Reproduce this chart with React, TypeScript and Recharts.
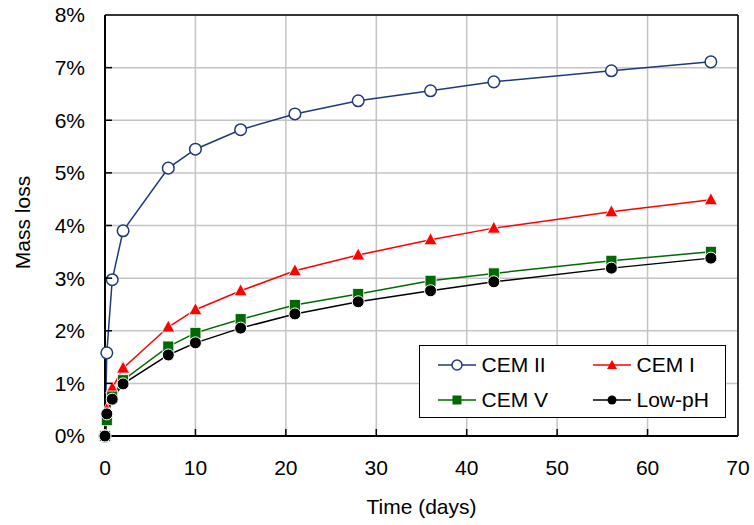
import {
  LineChart,
  Line,
  XAxis,
  YAxis,
  CartesianGrid,
  ReferenceLine,
  Legend,
} from "recharts";

// time in days, mass loss in %
const days = [0, 0.2, 0.8, 2, 7, 10, 15, 21, 28, 36, 43, 56, 67];
const cem2 = [0, 1.58, 2.97, 3.9, 5.09, 5.45, 5.82, 6.12, 6.37, 6.56, 6.73, 6.94, 7.11];
const cem1 = [0, 0.5, 0.91, 1.29, 2.07, 2.4, 2.76, 3.14, 3.44, 3.73, 3.95, 4.26, 4.49];
const cem5 = [0, 0.3, 0.75, 1.06, 1.7, 1.96, 2.22, 2.49, 2.7, 2.95, 3.09, 3.33, 3.5];
const lowPh = [0, 0.42, 0.7, 0.99, 1.54, 1.77, 2.05, 2.32, 2.55, 2.76, 2.93, 3.19, 3.38];

const xTicks = [0, 10, 20, 30, 40, 50, 60, 70];
const yTicks = [0, 1, 2, 3, 4, 5, 6, 7, 8];

const data = days.map((t, i) => ({
  t,
  cem2: cem2[i],
  cem1: cem1[i],
  cem5: cem5[i],
  lowPh: lowPh[i],
}));

const FONT = "'Liberation Sans', Arial, sans-serif";
const FS = 21;
const NAVY = "#1f3a78";
const RED = "#ff0000";
const GREEN = "#006a00";
const X_MARGIN = 24;
const Y_MARGIN = 20;

const openCircle = (p: any) => (
  <circle key={`c2-${p.index}`} cx={p.cx} cy={p.cy} r={5.8} fill="#fff" stroke={NAVY} strokeWidth={1.5} />
);
const triangle = (p: any) => (
  <path
    key={`c1-${p.index}`}
    d={`M${p.cx},${p.cy - 7} L${p.cx + 6.5},${p.cy + 5} L${p.cx - 6.5},${p.cy + 5} Z`}
    fill={RED}
    stroke="#fff"
    strokeWidth={0.8}
  />
);
const square = (p: any) => (
  <rect key={`c5-${p.index}`} x={p.cx - 5.5} y={p.cy - 5.5} width={11} height={11} fill={GREEN} stroke="#fff" strokeWidth={0.8} />
);
const dotCircle = (p: any) => (
  <circle key={`lp-${p.index}`} cx={p.cx} cy={p.cy} r={6} fill="#000" stroke="#fff" strokeWidth={1} />
);

// tick labels with short inward tick marks, like the original
const xTick = (p: any) => {
  const axisY = p.y - X_MARGIN;
  return (
    <g key={`xt-${p.index}`}>
      {p.index > 0 && p.index < xTicks.length - 1 && (
        <line x1={p.x} y1={axisY} x2={p.x} y2={axisY - 7} stroke="#000" strokeWidth={1.5} />
      )}
      <text x={p.x} y={p.y} dy="0.71em" textAnchor="middle" style={{ fontFamily: FONT, fontSize: FS }} fill="#000">
        {p.payload.value}
      </text>
    </g>
  );
};

const yTick = (p: any) => {
  const axisX = p.x + Y_MARGIN;
  return (
    <g key={`yt-${p.index}`}>
      {p.index > 0 && p.index < yTicks.length - 1 && (
        <line x1={axisX} y1={p.y} x2={axisX + 7} y2={p.y} stroke="#000" strokeWidth={1.5} />
      )}
      <text x={p.x} y={p.y} dy="0.355em" textAnchor="end" style={{ fontFamily: FONT, fontSize: FS }} fill="#000">
        {`${p.payload.value}%`}
      </text>
    </g>
  );
};

const legendItems = [
  { name: "CEM II", color: NAVY, marker: "open" },
  { name: "CEM I", color: RED, marker: "tri" },
  { name: "CEM V", color: GREEN, marker: "sq" },
  { name: "Low-pH", color: "#000", marker: "dot" },
];

function LegendIcon({ color, marker }: { color: string; marker: string }) {
  return (
    <svg width={38} height={14} style={{ marginRight: 6 }}>
      <line x1={0} y1={7} x2={38} y2={7} stroke={color} strokeWidth={1.5} />
      {marker === "open" && <circle cx={19} cy={7} r={5} fill="#fff" stroke={color} strokeWidth={1.5} />}
      {marker === "tri" && <path d="M19,2 L24,11 L14,11 Z" fill={color} />}
      {marker === "sq" && <rect x={14.5} y={2.5} width={9} height={9} fill={color} />}
      {marker === "dot" && <circle cx={19} cy={7} r={4.5} fill={color} />}
    </svg>
  );
}

function renderLegend() {
  return (
    <div
      style={{
        width: 307,
        height: 73,
        border: "1.5px solid #000",
        background: "#fff",
        display: "grid",
        gridTemplateColumns: "155px 133px",
        gridTemplateRows: "35px 35px",
        boxSizing: "border-box",
        paddingLeft: 17.5,
        paddingTop: 1,
        fontFamily: FONT,
        fontSize: FS,
        color: "#000",
      }}
    >
      {legendItems.map((it) => (
        <div key={it.name} style={{ display: "flex", alignItems: "center", whiteSpace: "nowrap" }}>
          <LegendIcon color={it.color} marker={it.marker} />
          <span>{it.name}</span>
        </div>
      ))}
    </div>
  );
}

export default function App() {
  return (
    <div style={{ position: "absolute", left: 0, top: 0, background: "#fff" }}>
      <LineChart width={754} height={525} data={data} margin={{ top: 15, right: 16, left: 0, bottom: 0 }}>
        <CartesianGrid stroke="#c4c4c4" strokeWidth={1.5} />
        <XAxis
          dataKey="t"
          type="number"
          domain={[0, 70]}
          ticks={xTicks}
          height={89}
          tickSize={0}
          tickMargin={X_MARGIN}
          tick={xTick}
          axisLine={{ stroke: "#000", strokeWidth: 2 }}
          label={(props: any) => {
            const vb = props.viewBox;
            return (
              <text x={vb.x + vb.width / 2} y={vb.y + 70} textAnchor="middle" dominantBaseline="central" style={{ fontFamily: FONT, fontSize: FS }} fill="#000">
                Time (days)
              </text>
            );
          }}
        />
        <YAxis
          type="number"
          domain={[0, 8]}
          ticks={yTicks}
          width={105}
          tickSize={0}
          tickMargin={Y_MARGIN}
          tick={yTick}
          axisLine={{ stroke: "#000", strokeWidth: 2 }}
          label={(props: any) => {
            const vb = props.viewBox;
            const cx = vb.x + 22;
            const cy = vb.y + vb.height / 2 - 3;
            return (
              <text x={cx} y={cy} transform={`rotate(-90 ${cx} ${cy})`} textAnchor="middle" dominantBaseline="central" style={{ fontFamily: FONT, fontSize: FS }} fill="#000">
                Mass loss
              </text>
            );
          }}
        />
        <ReferenceLine x={70} stroke="#000" strokeWidth={1.5} />
        <ReferenceLine y={8} stroke="#000" strokeWidth={1.5} />
        <Legend
          layout="vertical"
          align="center"
          verticalAlign="middle"
          content={renderLegend}
          wrapperStyle={{ left: 419, top: 345, width: 307, height: 73 }}
        />
        <Line dataKey="cem2" name="CEM II" type="linear" stroke={NAVY} strokeWidth={1.5} dot={openCircle} isAnimationActive={false} />
        <Line dataKey="cem1" name="CEM I" type="linear" stroke={RED} strokeWidth={1.5} dot={triangle} isAnimationActive={false} />
        <Line dataKey="cem5" name="CEM V" type="linear" stroke={GREEN} strokeWidth={1.5} dot={square} isAnimationActive={false} />
        <Line dataKey="lowPh" name="Low-pH" type="linear" stroke="#000" strokeWidth={1.5} dot={dotCircle} isAnimationActive={false} />
      </LineChart>
    </div>
  );
}
